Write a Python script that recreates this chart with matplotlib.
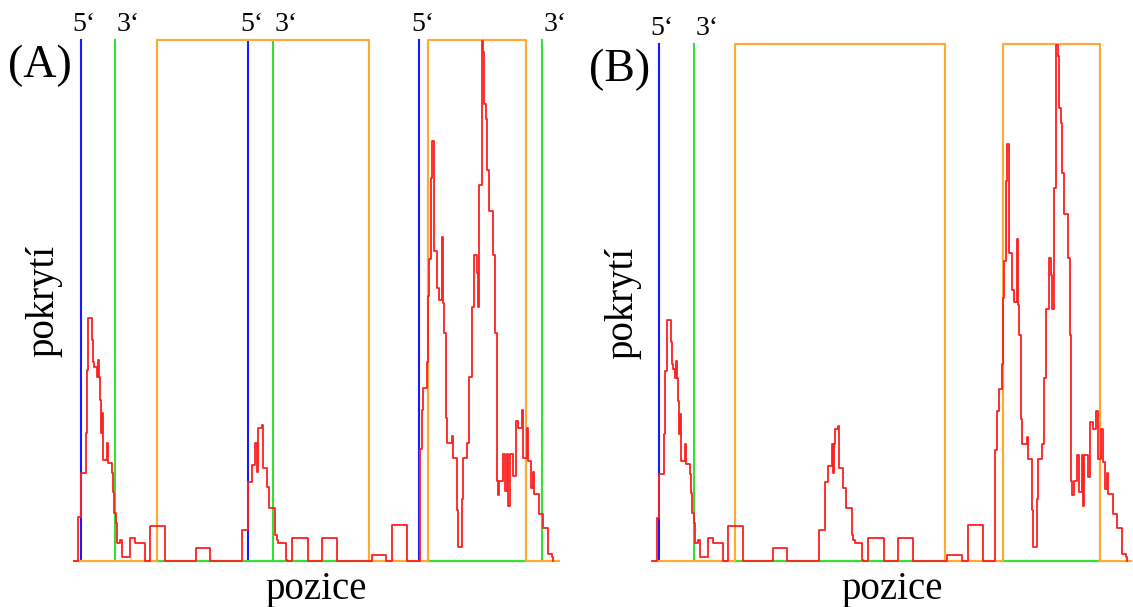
import matplotlib
matplotlib.use('Agg')
import matplotlib.pyplot as plt

# coverage profile (step changes), position -> coverage
pos = [0, 86, 140, 240, 254, 286, 366, 386, 406, 454, 474, 506, 520, 540, 566, 574,
       654, 686, 754, 786, 806, 834, 866, 920, 954, 1120, 1220, 1426, 1520, 1820,
       2434, 2720, 3354, 3486, 3554, 3620, 3654, 3674, 3686, 3754, 3774, 3854, 3906,
       4020, 4054, 4086, 4234, 4254, 4354, 4674, 4954, 5254, 5954, 6246, 6366, 6666,
       6920, 6954, 6986, 7054, 7086, 7106, 7134, 7166, 7200, 7266, 7306, 7354, 7374,
       7400, 7440, 7466, 7554, 7586, 7654, 7686, 7754, 7786, 7854, 7906, 7954, 8000,
       8054, 8074, 8100, 8154, 8186, 8200, 8240, 8266, 8300, 8386, 8420, 8454, 8474,
       8506, 8574, 8620, 8666, 8686, 8720, 8786, 8834, 8886, 8954, 8986, 9054, 9086,
       9140, 9174, 9200, 9306, 9374, 9486, 9554, 9574]
cov = [0, 8.4, 16.9, 24.6, 36.7, 46.6, 42.4, 38.2, 37.2, 35.3, 38.6, 35.3, 30.9, 24.6, 28.4, 19.4,
       22.6, 18.8, 16.9, 13.2, 9.2, 7.3, 3.5, 4.0, 0.8, 4.4, 3.5, 0, 6.7, 0,
       2.5, 0, 6.0, 15.2, 18.4, 22.6, 17.1, 22.6, 25.5, 26.1, 17.9, 14.2, 10.2,
       5.0, 4.0, 3.5, 0.2, 0, 4.4, 0, 4.4, 0, 1.2, 0, 6.9, 0,
       21.5, 29.0, 33.2, 38.2, 50.9, 58.0, 73.5, 80.6, 59.5, 52.4, 50.1, 62.2, 49.5,
       43.8, 27.4, 22.6, 24.0, 19.8, 9.8, 2.7, 11.9, 19.8, 22.6, 35.3, 48.8, 58.7,
       55.3, 48.8, 72.2, 99.8, 97.7, 87.7, 84.8, 75.0, 67.2, 58.7, 43.8, 15.4, 12.7,
       15.4, 20.5, 13.4, 20.5, 10.6, 20.5, 16.3, 26.9, 25.5, 29.0, 19.8, 25.5, 19.2,
       14.0, 17.1, 12.9, 9.0, 6.3, 1.3, 0.8, 0]

# orange regions
boxes = [(1666, 5900), (7086, 9034)]

# 5' (blue) and 3' (green) ends
ends_a = [(134, 820), (3486, 3986), (6906, 9354)]
ends_b = [(134, 834)]

panels = [('(A)', ends_a, (0, 9700), [74/1133, 46/607, 485/1133, 521/607]),
          ('(B)', ends_b, (12, 9660), [653/1133, 46/607, 478/1133, 517/607])]

BLUE = '#1a1aff'
GREEN = '#33e033'
ORANGE = '#ffaa33'
RED = '#ff2020'
FONT = 'Liberation Serif'

fig = plt.figure(figsize=(11.33, 6.07), dpi=100)

for label, ends, xlim, rect in panels:
    ax = fig.add_axes(rect)
    ax.set_xlim(*xlim)
    ax.set_ylim(0, 100)
    ax.axis('off')

    # baseline: orange outside the boxes, green inside
    edges = [xlim[0]]
    for b0, b1 in boxes:
        edges += [b0, b1]
    edges.append(xlim[1])
    for i in range(len(edges) - 1):
        col = GREEN if i % 2 == 1 else ORANGE
        ax.plot([edges[i], edges[i + 1]], [0, 0], color=col, lw=1.6,
                clip_on=False, zorder=2)

    for e5, e3 in ends:
        ax.plot([e5, e5], [0, 100], color=BLUE, lw=1.5, clip_on=False, zorder=1)
        ax.plot([e3, e3], [0, 100], color=GREEN, lw=1.5, clip_on=False, zorder=1)
        ax.annotate('5\u2018', (e5, 100), xytext=(-6, 2), textcoords='offset points',
                    ha='left', va='bottom', fontsize=20, family=FONT)
        ax.annotate('3\u2018', (e3, 100), xytext=(1, 2), textcoords='offset points',
                    ha='left', va='bottom', fontsize=20, family=FONT)

    for b0, b1 in boxes:
        ax.plot([b0, b0, b1, b1], [0, 100, 100, 0], color=ORANGE, lw=1.6,
                clip_on=False, zorder=3)

    ax.step(pos, cov, where='post', color=RED, lw=1.3, clip_on=False, zorder=4)

    ax.text(-0.005, 0.95, label, transform=ax.transAxes, ha='right', va='center',
            fontsize=33, family=FONT)
    ax.text(-0.062, 0.5, 'pokrytí', transform=ax.transAxes, rotation=90,
            ha='center', va='center', fontsize=28, family=FONT)
    ax.text(0.5, -0.02, 'pozice', transform=ax.transAxes, ha='center', va='top',
            fontsize=28, family=FONT)

fig.savefig('out.png', dpi=100)
